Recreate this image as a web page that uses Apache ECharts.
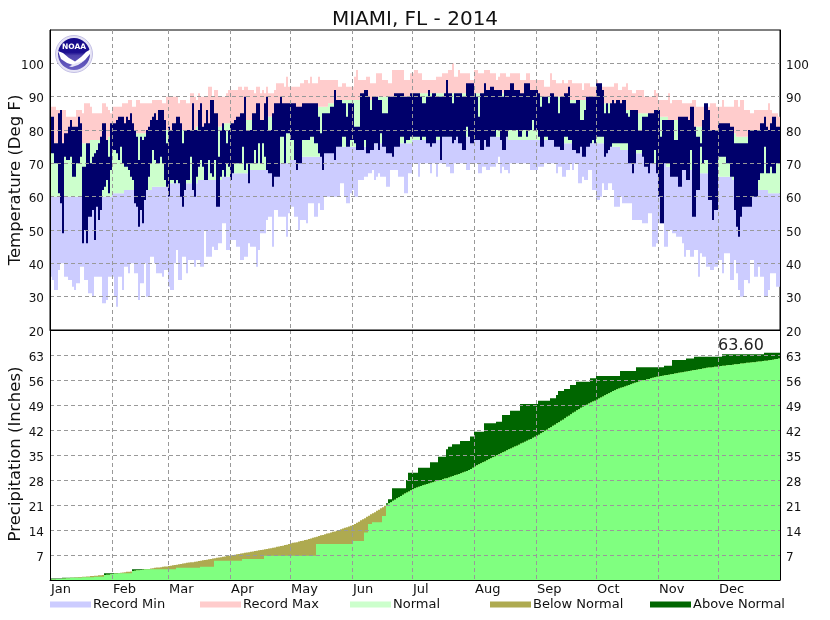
<!DOCTYPE html>
<html><head><meta charset="utf-8">
<style>html,body{margin:0;padding:0;background:#fff}#c{width:830px;height:620px}</style>
<script src="https://cdn.jsdelivr.net/npm/echarts@6/dist/echarts.min.js"></script>
</head><body><div id="c"></div>
<script>
const months=['Jan','Feb','Mar','Apr','May','Jun','Jul','Aug','Sep','Oct','Nov','Dec'];
const monthDays=[31,28,31,30,31,30,31,31,30,31,30,31];
const tempTicks=[20,30,40,50,60,70,80,90,100];
const precipTicks=[7,14,21,28,35,42,49,56,63];
const recordMin=[
36,35,32,32,38,40,40,36,36,35,35,33,32,34,34,39,39,35,35,31,31,30,36,36,36,36,28,28,29,36,36,
36,30,27,36,36,32,39,39,37,40,40,37,37,29,34,34,40,30,30,42,42,40,37,37,37,36,38,38,
33,32,32,40,44,35,35,42,42,37,41,41,41,39,41,41,39,39,50,42,42,42,45,44,44,46,46,52,52,44,44,
47,47,47,45,45,41,41,42,42,46,45,45,45,39,44,49,49,49,53,54,54,45,56,56,54,54,54,54,48,55,
57,57,54,54,50,53,53,53,52,58,58,58,54,54,58,56,56,60,60,60,60,60,60,60,60,64,64,60,58,58,61,
62,60,60,65,65,65,66,66,67,67,68,65,66,67,66,66,66,63,63,68,68,68,68,66,66,66,61,61,67,67,
70,70,70,66,70,70,70,70,70,67,70,70,66,70,70,70,70,69,69,67,67,70,70,70,70,70,70,68,68,70,70,
70,70,67,67,69,69,68,68,69,69,69,70,72,67,69,68,68,67,70,70,70,70,70,70,70,70,70,70,68,68,68,
68,69,69,69,70,70,70,70,70,70,67,69,69,66,66,68,68,70,68,70,70,64,64,66,65,65,68,68,62,62,
59,59,60,64,62,62,64,64,62,57,57,57,60,58,58,58,58,58,53,53,53,53,53,52,52,52,55,55,45,45,46,
52,52,52,45,45,50,50,49,49,48,48,48,46,42,44,44,42,42,44,44,36,43,42,42,39,39,38,38,39,39,
41,41,37,43,43,43,35,35,41,37,32,30,30,35,35,34,41,41,36,36,39,36,36,30,30,32,37,37,37,33,33];
const recordMax=[
87,87,87,86,86,86,86,86,84,84,84,84,84,86,86,86,85,88,88,88,87,85,85,85,85,85,88,88,87,86,85,
87,87,87,87,87,88,88,88,89,89,87,87,89,89,88,88,88,88,88,88,89,89,89,89,89,88,88,90,
90,90,90,90,90,88,89,89,89,88,88,91,91,90,89,91,90,90,90,90,93,93,90,92,92,90,90,90,90,91,92,
92,92,92,92,93,93,92,93,93,92,92,92,91,93,93,91,92,91,93,91,91,91,92,94,94,94,94,93,96,93,
93,93,93,93,93,94,94,95,95,94,96,94,94,94,96,95,95,95,95,95,95,95,95,95,93,93,94,94,93,93,93,
93,96,98,95,95,95,95,96,96,94,94,94,97,97,97,95,95,95,94,94,98,98,98,98,98,98,95,95,95,97,
97,98,98,97,97,95,95,95,95,95,95,95,96,96,96,97,97,97,98,98,100,96,96,98,97,97,97,97,97,95,95,
98,98,97,97,97,98,98,98,97,97,97,95,96,97,97,97,96,96,97,97,97,97,97,95,95,95,97,97,95,95,95,
95,95,95,95,93,93,93,97,95,95,94,94,94,95,94,94,95,95,94,94,94,94,94,92,94,94,94,93,93,93,
95,94,94,93,93,93,93,93,93,94,94,92,92,93,93,94,92,92,91,91,92,92,92,92,90,90,90,90,90,92,91,
89,89,89,89,89,91,88,89,89,89,89,89,88,88,88,88,88,89,89,87,87,87,87,87,87,87,88,88,88,87,
87,87,89,87,87,87,87,87,89,89,87,89,89,86,86,86,85,85,86,86,86,86,86,86,86,88,86,85,85,85,84];
const normalMin=[
60,60,60,60,60,60,60,60,60,60,60,60,60,60,60,60,60,60,60,60,60,60,60,60,60,60,60,60,60,60,60,
61,61,61,61,61,61,62,62,62,62,62,62,62,62,62,62,62,62,62,62,63,63,63,63,63,63,63,63,
64,64,64,64,64,64,64,64,64,64,64,64,64,64,64,65,65,65,65,65,65,65,65,65,65,65,65,66,66,66,66,
67,67,67,67,67,67,67,67,67,67,68,68,68,68,68,68,68,68,69,69,69,69,69,69,69,70,70,70,70,70,
71,71,71,71,71,71,72,72,72,72,72,72,72,72,72,73,74,74,74,74,74,74,74,75,75,75,75,75,75,75,75,
75,75,75,75,75,75,75,75,75,75,76,76,76,76,76,76,76,76,76,76,76,76,76,76,76,76,76,76,76,76,
77,77,77,77,77,77,77,77,77,77,77,77,77,77,78,78,78,78,78,78,78,78,78,78,78,78,78,78,78,78,78,
78,78,78,78,78,78,78,78,78,78,78,78,78,78,78,78,78,77,77,77,77,77,77,77,77,77,77,77,77,77,77,
77,77,77,77,77,77,77,77,77,77,77,77,76,76,76,76,76,76,76,76,76,76,76,76,76,76,76,76,76,76,
76,76,76,76,75,75,75,75,75,75,75,75,74,74,74,74,74,74,73,73,73,73,73,72,72,72,71,71,71,70,70,
70,70,70,70,69,69,69,69,69,69,69,69,68,68,68,68,68,68,68,68,68,67,67,67,67,67,67,67,67,67,
66,66,66,66,66,66,66,65,65,65,64,64,64,63,63,63,63,63,63,62,62,62,62,62,62,61,61,61,61,61,61];
const normalMax=[
76,76,76,76,76,76,76,76,76,76,76,76,76,76,76,76,76,76,76,76,77,77,77,77,77,77,77,77,77,78,78,
78,78,78,78,78,78,78,78,78,78,79,79,79,79,79,79,79,79,79,79,79,79,79,79,80,80,80,80,
80,80,80,80,80,80,80,80,80,80,80,80,80,80,81,81,81,81,81,81,81,81,81,81,81,81,81,81,82,82,82,
82,82,82,82,82,82,82,83,83,83,83,83,83,83,83,83,83,84,84,84,84,84,84,84,84,84,84,85,85,85,
85,85,85,85,85,86,86,86,86,86,86,87,87,87,87,87,87,87,87,88,88,88,88,88,88,89,89,89,89,89,89,
89,89,89,89,89,89,89,89,89,89,90,90,90,90,90,90,90,90,90,90,90,90,90,90,90,90,90,90,90,90,
90,90,91,91,91,91,91,91,91,91,91,91,91,91,91,91,91,91,91,91,91,91,91,91,91,91,91,91,91,91,91,
91,91,91,91,91,91,91,91,91,91,91,91,91,91,91,91,91,91,91,91,90,90,90,90,90,90,90,90,90,90,90,
90,90,90,90,90,90,90,90,90,90,90,90,90,90,90,90,90,89,89,89,89,89,89,89,89,89,89,89,89,89,
89,89,89,88,88,88,88,88,88,87,87,87,87,87,87,86,86,86,86,86,86,85,85,85,85,85,85,84,84,84,84,
84,84,84,84,84,83,83,83,83,83,83,82,82,82,82,82,82,81,81,81,81,81,80,80,80,80,80,80,79,79,
79,79,79,79,79,79,79,79,79,78,78,78,78,78,78,78,78,78,78,77,77,77,77,77,77,77,77,77,77,77,77];
const actualHigh=[
84,84,76,76,85,86,76,79,79,81,83,81,81,81,84,82,69,69,76,76,70,72,73,74,76,78,82,82,77,72,82,
82,82,83,84,84,84,82,84,83,85,82,80,78,71,78,77,78,80,81,83,84,85,83,86,86,86,83,76,
81,80,82,82,84,84,82,76,80,80,80,80,88,80,80,86,88,81,82,86,82,89,89,85,85,72,80,82,80,76,80,
82,82,83,84,84,85,85,90,80,80,80,85,85,88,88,83,83,88,90,80,80,85,88,88,88,90,88,88,88,88,
88,88,88,87,87,87,88,88,88,88,88,88,88,88,84,79,85,85,85,85,87,87,92,89,89,89,88,88,84,88,88,
88,81,81,81,91,91,92,92,90,86,90,90,90,89,89,85,85,85,90,90,90,91,91,91,91,91,90,90,90,91,
91,91,91,91,90,88,88,90,92,90,91,91,90,90,90,90,91,95,91,91,88,91,91,91,91,90,90,94,94,94,94,
91,90,84,91,91,94,92,92,93,93,92,92,92,92,90,92,92,92,94,94,92,92,92,91,91,94,94,94,92,92,92,
92,91,87,90,90,90,88,91,91,90,90,85,90,90,91,91,93,88,88,88,89,89,83,83,86,90,90,90,90,90,
94,94,94,92,85,88,85,88,89,88,89,89,88,89,89,85,84,86,86,86,86,80,80,84,84,84,85,85,85,86,86,
86,78,83,83,83,83,83,83,77,77,84,84,84,84,84,83,87,87,81,78,78,76,83,88,88,86,80,80,80,80,
82,82,82,82,82,82,81,81,76,76,76,76,76,76,76,80,80,80,80,80,80,82,82,84,81,80,82,84,84,81,81];
const actualLow=[
73,73,70,70,61,58,49,72,71,71,72,66,66,70,70,72,46,50,46,54,54,56,47,57,53,56,62,63,65,61,68,
74,74,73,71,75,70,69,69,68,66,65,58,57,51,56,52,59,62,66,70,74,71,70,70,72,70,65,63,
60,65,65,64,65,64,60,57,62,65,65,72,62,60,66,69,71,69,65,65,71,67,66,71,57,57,66,68,66,70,69,
65,67,70,70,70,70,75,68,70,64,70,70,74,70,76,70,76,72,68,67,67,63,66,66,66,78,78,70,79,79,
77,77,71,68,70,70,77,77,77,77,78,78,76,76,73,72,68,73,73,73,73,73,71,75,75,75,78,78,75,75,77,
77,76,74,74,74,74,77,73,73,74,74,76,76,74,79,75,75,73,73,73,72,75,75,75,78,78,76,77,77,78,
78,78,78,78,77,78,78,76,76,75,76,76,78,78,71,78,78,78,78,78,76,77,78,76,76,74,74,81,78,76,76,
77,77,77,74,74,77,75,75,78,78,78,80,80,77,74,74,78,80,80,80,80,80,78,78,80,80,78,80,80,83,80,
80,78,75,75,78,78,77,77,77,75,75,75,74,74,78,78,77,77,74,74,73,73,75,72,72,75,75,76,77,76,
78,78,78,78,72,73,74,75,76,76,76,76,76,76,76,76,70,70,67,70,74,74,74,72,69,69,67,70,70,74,67,
60,52,52,70,70,70,66,66,66,66,63,63,68,68,65,65,74,54,54,62,62,75,70,71,71,59,59,53,56,56,
72,72,72,72,70,70,66,66,56,51,48,54,57,57,57,57,57,60,60,60,65,67,67,75,67,67,69,67,67,70,70];
const normalPrecip=[
0.15,0.2,0.2,0.25,0.3,0.3,0.4,0.4,0.5,0.5,0.6,0.6,0.7,0.7,0.8,0.8,0.9,0.9,1.0,1.0,1.1,1.1,1.2,1.2,1.3,1.3,1.4,1.4,1.5,1.5,1.6,
1.7,1.8,1.8,1.9,2.0,2.1,2.2,2.3,2.3,2.4,2.5,2.6,2.7,2.7,2.8,2.9,3.0,3.1,3.1,3.2,3.3,3.4,3.5,3.5,3.6,3.7,3.8,3.8,
3.9,4.0,4.1,4.2,4.3,4.4,4.5,4.6,4.7,4.8,4.9,5.0,5.0,5.1,5.2,5.3,5.4,5.5,5.6,5.7,5.8,5.9,6.0,6.1,6.2,6.3,6.4,6.5,6.6,6.7,6.8,
6.9,7.0,7.1,7.2,7.3,7.4,7.5,7.6,7.7,7.8,7.9,8.0,8.1,8.2,8.3,8.4,8.5,8.6,8.7,8.8,8.9,9.0,9.1,9.3,9.4,9.5,9.6,9.8,9.9,10.1,
10.3,10.4,10.5,10.6,10.8,10.9,11.0,11.2,11.3,11.5,11.6,11.8,12.0,12.1,12.3,12.5,12.6,12.8,13.0,13.1,13.3,13.5,13.6,13.8,14.0,14.2,14.4,14.6,14.8,15.0,15.2,
15.4,15.7,16.0,16.3,16.7,17.0,17.3,17.7,18.0,18.4,18.7,19.0,19.4,19.7,20.1,20.4,20.8,21.1,21.5,21.8,22.2,22.5,22.9,23.2,23.5,23.9,24.2,24.5,24.8,25.1,
25.4,25.7,25.9,26.1,26.3,26.5,26.7,26.9,27.0,27.2,27.4,27.6,27.7,27.9,28.0,28.2,28.4,28.5,28.7,28.9,29.1,29.3,29.5,29.7,29.9,30.1,30.3,30.5,30.8,31.1,31.4,
31.8,32.1,32.4,32.7,33.0,33.2,33.5,33.8,34.1,34.4,34.6,34.9,35.2,35.5,35.8,36.0,36.3,36.6,36.8,37.1,37.4,37.6,37.9,38.2,38.4,38.7,39.0,39.3,39.5,39.8,40.1,
40.4,40.7,41.1,41.4,41.8,42.1,42.5,42.8,43.2,43.5,43.9,44.2,44.6,44.9,45.3,45.7,46.0,46.4,46.8,47.1,47.5,47.8,48.2,48.5,48.8,49.1,49.4,49.7,50.0,50.2,
50.5,50.8,51.1,51.4,51.7,52.0,52.3,52.6,52.9,53.1,53.4,53.6,53.8,54.0,54.2,54.4,54.6,54.8,55.0,55.2,55.4,55.6,55.7,55.9,56.0,56.2,56.3,56.5,56.6,56.8,56.9,
57.0,57.1,57.2,57.3,57.4,57.5,57.6,57.7,57.8,57.9,58.0,58.1,58.2,58.3,58.4,58.5,58.6,58.7,58.8,58.9,59.0,59.1,59.2,59.3,59.4,59.5,59.5,59.6,59.7,59.7,
59.8,59.9,60.0,60.0,60.1,60.2,60.2,60.3,60.4,60.4,60.5,60.6,60.6,60.7,60.8,60.8,60.9,61.0,61.0,61.1,61.2,61.2,61.3,61.4,61.4,61.5,61.6,61.7,61.8,61.9,62.0];
const actualPrecip=[
0.4,0.4,0.4,0.4,0.4,0.4,0.6,0.6,0.6,0.6,0.6,0.6,0.6,0.6,0.6,0.6,0.8,0.8,0.8,0.8,0.8,0.8,0.9,0.9,0.9,0.9,0.9,1.9,1.9,1.9,1.9,
1.9,1.9,1.9,1.9,1.9,1.9,1.9,1.9,1.9,1.9,3.0,3.0,3.0,3.0,3.0,3.0,3.0,3.0,3.0,3.0,3.0,3.0,3.0,3.0,3.0,3.0,3.0,3.0,
3.0,3.0,3.0,3.0,3.4,3.4,3.4,3.4,3.4,3.4,3.4,3.4,3.4,3.4,3.4,3.4,3.7,3.7,3.7,3.7,3.7,3.7,3.7,5.4,5.4,5.4,5.4,5.4,5.4,5.4,5.4,
5.4,5.4,5.4,5.4,5.4,5.4,5.9,5.9,5.9,5.9,5.9,5.9,5.9,5.9,5.9,5.9,5.9,6.8,6.8,6.8,6.8,6.8,6.8,6.8,6.8,6.8,6.8,6.8,6.8,6.8,
6.8,6.8,6.8,6.8,6.8,6.8,6.8,6.8,6.8,6.8,6.8,6.8,6.8,10.1,10.1,10.1,10.1,10.1,10.1,10.1,10.1,10.1,10.1,10.1,10.1,10.1,10.1,10.1,10.1,10.1,10.1,
10.9,10.9,10.9,10.9,10.9,10.9,13.3,13.3,15.7,15.7,16.2,16.2,16.2,16.2,16.2,17.9,17.9,21.5,22.6,22.6,25.7,25.7,25.7,25.7,25.7,25.7,25.7,28.0,30.0,30.0,
30.0,30.0,30.0,31.4,31.4,31.4,31.4,31.4,31.4,33.0,33.0,33.0,33.0,34.5,34.5,34.5,34.5,36.6,37.3,37.3,38.0,38.0,38.0,38.0,38.9,38.9,38.9,38.9,38.9,40.2,40.2,
41.5,41.5,41.5,41.5,41.5,43.9,43.9,43.9,43.9,43.9,43.9,44.3,44.3,44.3,46.2,46.2,46.2,46.2,47.4,47.4,47.4,47.4,47.4,49.3,49.3,49.3,49.3,49.3,49.3,49.3,49.3,
49.3,50.2,50.2,50.2,50.2,50.2,50.2,50.9,50.9,50.9,51.8,52.9,52.9,52.9,53.5,53.5,53.5,54.6,54.6,54.6,55.5,55.5,55.5,55.5,55.5,55.5,55.5,56.5,56.5,56.5,
57.1,57.1,57.1,57.1,57.1,57.1,57.1,57.1,57.1,57.1,57.1,57.1,58.5,58.5,58.5,58.5,58.5,58.5,58.5,58.5,59.6,59.6,59.6,59.6,59.6,59.6,59.6,59.6,59.6,59.6,59.6,
59.6,59.6,59.6,60.0,60.0,60.0,60.0,61.6,61.6,61.6,61.6,61.6,61.6,61.6,62.0,62.0,62.0,62.0,62.5,62.5,62.5,62.5,62.5,62.5,62.5,62.5,62.5,62.5,62.5,62.5,
62.5,62.5,63.2,63.2,63.2,63.2,63.2,63.2,63.2,63.2,63.2,63.2,63.2,63.2,63.2,63.2,63.2,63.2,63.2,63.2,63.2,63.2,63.2,63.6,63.6,63.6,63.6,63.6,63.6,63.6,63.6];

const FONT='"DejaVu Sans"';
const C={recMin:'#ccccff',recMax:'#ffcccc',normal:'#ccffcc',actual:'#00006b',below:'#aeaa50',above:'#006600',fill:'#80ff80',grid:'#999999'};
const days=[],firsts=[];
monthDays.forEach((n,m)=>{firsts.push(days.length);for(let d=0;d<n;d++)days.push(d===0?months[m]:'');});
const isFirst=i=>firsts.includes(i);
const dash={color:C.grid,width:1,type:[4,3]};

function band(name,lo,hi,color){
  return {type:'custom',name,xAxisIndex:0,yAxisIndex:0,z:2,itemStyle:{color},clip:true,
    encode:{x:0,y:[1,2]},data:lo.map((v,i)=>[i,v,hi[i]]),
    renderItem:(p,api)=>{
      const a=api.coord([api.value(0),api.value(1)]),b=api.coord([api.value(0),api.value(2)]),w=api.size([1,0])[0];
      return {type:'rect',shape:{x:a[0]-w/2,y:b[1],width:w,height:a[1]-b[1]},style:{fill:color}};
    }};
}
function bars(name,vals,color){
  return {type:'bar',name,xAxisIndex:1,yAxisIndex:2,data:vals,barWidth:'100%',barGap:'-100%',z:2,itemStyle:{color}};
}
function xAxis(gridIndex,showLabels){
  return {type:'category',gridIndex,data:days,boundaryGap:true,z:10,
    axisLine:{show:true,onZero:false,lineStyle:{color:'#000',width:1}},axisTick:{show:false},
    axisLabel:{show:showLabels,interval:i=>isFirst(i),align:'left',margin:3,fontFamily:FONT,fontSize:13,color:'#111',hideOverlap:false},
    splitLine:{show:true,interval:i=>isFirst(i)&&i>0,lineStyle:dash}};
}
function yAxis(gridIndex,position,min,max,interval,ticks,split){
  return {type:'value',gridIndex,position,min,max,interval,z:10,
    axisLine:{show:true,lineStyle:{color:'#000',width:1}},axisTick:{show:false},
    axisLabel:{show:true,margin:6,verticalAlign:'top',lineHeight:5,fontFamily:FONT,fontSize:12,color:'#111',formatter:v=>ticks.includes(v)?String(v):''},
    splitLine:{show:split,showMinLine:false,showMaxLine:false,lineStyle:dash}};
}
const legendItems=[['Record Min',50],['Record Max',200],['Normal',350],['Below Normal',490],['Above Normal',650]];

const option={
  animation:false,backgroundColor:'#fff',
  textStyle:{fontFamily:FONT},
  title:{text:'MIAMI, FL - 2014',left:410,top:5,textAlign:'center',textStyle:{fontFamily:FONT,fontSize:20,fontWeight:'normal',color:'#111'}},
  grid:[
    {left:50,top:30,width:730,height:300,show:true,borderColor:'#000',borderWidth:1,backgroundColor:'#fff'},
    {left:50,top:330,width:730,height:250}
  ],
  xAxis:[xAxis(0,false),xAxis(1,true)],
  yAxis:[
    yAxis(0,'left',20,110,10,tempTicks,true),
    yAxis(0,'right',20,110,10,tempTicks,false),
    yAxis(1,'left',0,70,7,precipTicks,true),
    yAxis(1,'right',0,70,7,precipTicks,false)
  ],
  legend:legendItems.map(([name,left])=>({data:[name],left,top:598,padding:0,itemWidth:41,itemHeight:6,icon:'rect',selectedMode:false,
    textStyle:{fontFamily:FONT,fontSize:13,color:'#111',padding:[0,0,6,-3]}})),
  series:[
    band('Record Min',recordMin,normalMin,C.recMin),
    band('Normal',normalMin,normalMax,C.normal),
    band('Record Max',normalMax,recordMax,C.recMax),
    band('Observed',actualLow,actualHigh,C.actual),
    bars('Above Normal',actualPrecip,C.above),
    bars('Below Normal',normalPrecip,C.below),
    bars('Precipitation',actualPrecip.map((v,i)=>Math.min(v,normalPrecip[i])),C.fill)
  ],
  graphic:[
    {type:'text',z:20,rotation:Math.PI/2,x:16,y:180,style:{text:'Temperature (Deg F)',fontFamily:FONT,fontSize:16.5,fill:'#111',textAlign:'center',textVerticalAlign:'middle'}},
    {type:'text',z:20,rotation:Math.PI/2,x:16,y:454,style:{text:'Precipitation (Inches)',fontFamily:FONT,fontSize:16.5,fill:'#111',textAlign:'center',textVerticalAlign:'middle'}},
    {type:'text',z:20,x:741,y:345.5,style:{text:actualPrecip[actualPrecip.length-1].toFixed(2),fontFamily:FONT,fontSize:16,fill:'#222',textAlign:'center',textVerticalAlign:'middle'}},
    {type:'group',z:20,children:[
      {type:'circle',z:20,shape:{cx:74,cy:54,r:18.5},style:{fill:'#e6e4f5',stroke:'#c4c0e6',lineWidth:1}},
      {type:'circle',z:21,shape:{cx:74,cy:54,r:16},style:{fill:{type:'linear',x:0,y:0,x2:0,y2:1,colorStops:[{offset:0,color:'#15098a'},{offset:0.45,color:'#1d1090'},{offset:0.55,color:'#4f43ad'},{offset:1,color:'#6c62c4'}]}}},
      {type:'polygon',z:22,shape:{points:[[58,51],[63,53],[69,58],[75,61.5],[81,57],[86,52],[90.2,49.5],[90,54],[85,60],[79,64],[73,65],[67,63],[61,59]]},style:{fill:'#fff'}},
      {type:'polygon',z:23,shape:{points:[[69,66.5],[76,63],[84,61],[78,65],[72,67]]},style:{fill:'#e8e6f8'}},
      {type:'text',z:23,x:74,y:47,style:{text:'NOAA',fontFamily:FONT,fontSize:7.5,fontWeight:'bold',fill:'#fff',textAlign:'center',textVerticalAlign:'middle'}}
    ]}
  ]
};
echarts.init(document.getElementById('c'),null,{renderer:'canvas'}).setOption(option);
</script></body></html>
